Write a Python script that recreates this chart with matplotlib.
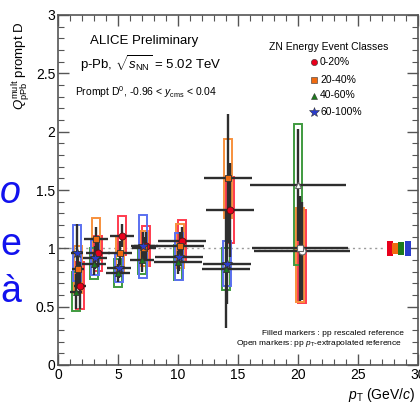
import matplotlib
matplotlib.use("Agg")
import matplotlib.pyplot as plt
from matplotlib.ticker import MultipleLocator
import numpy as np

plt.rcParams['font.family'] = ['Liberation Sans', 'DejaVu Sans']
plt.rcParams['mathtext.fontset'] = 'custom'
plt.rcParams['mathtext.rm'] = 'Liberation Sans'
plt.rcParams['mathtext.it'] = 'Liberation Sans:italic'
plt.rcParams['mathtext.bf'] = 'Liberation Sans:bold'

# ---- data ----
classes = ["0-20%", "20-40%", "40-60%", "60-100%"]
colors = ["#e8001c", "#f06a10", "#1c7a1c", "#2a3ccc"]
box_colors = ["#ff3b4e", "#f7903c", "#3f9a3f", "#5a70f0"]
markers = ["o", "s", "^", "*"]
x_offsets = [0.35, 0.15, 0.0, 0.1]

pt_center = [1.5, 3.0, 5.0, 7.0, 10.0, 14.0]
pt_halfw = [0.5, 1.0, 1.0, 1.0, 2.0, 2.0]

q_red = [0.68, 0.96, 1.11, 1.02, 1.06, 1.33]
q_orange = [0.82, 1.08, 0.96, 1.00, 1.02, 1.60]
q_green = [0.63, 0.87, 0.79, 0.90, 0.88, 0.82]
q_blue = [0.96, 0.92, 0.83, 1.02, 0.93, 0.87]

stat_red = [0.20, 0.12, 0.10, 0.12, 0.12, 0.40]
stat_orange = [0.16, 0.10, 0.10, 0.10, 0.12, 0.55]
stat_green = [0.15, 0.10, 0.08, 0.10, 0.10, 0.50]
stat_blue = [0.25, 0.10, 0.08, 0.12, 0.12, 0.35]

syst_red = [0.20, 0.15, 0.17, 0.17, 0.18, 0.28]
syst_orange = [0.20, 0.18, 0.15, 0.15, 0.19, 0.34]
syst_green = [0.17, 0.13, 0.12, 0.12, 0.15, 0.18]
syst_blue = [0.24, 0.15, 0.12, 0.27, 0.20, 0.19]

# open markers (pp pT-extrapolated reference), 16-24 GeV/c bin
pt_open = 20.0
pt_open_halfw = 4.0
open_classes = [0, 1, 2]
q_open = [0.98, 1.00, 1.54]
stat_open = [0.42, 0.45, 0.48]
syst_open_lo = [0.45, 0.46, 0.68]
syst_open_hi = [0.35, 0.35, 0.53]

# normalisation uncertainties (boxes at right)
norm_x = [27.65, 28.1, 28.6, 29.15]
norm_unc = [0.065, 0.045, 0.055, 0.065]

q_all = [q_red, q_orange, q_green, q_blue]
stat_all = [stat_red, stat_orange, stat_green, stat_blue]
syst_all = [syst_red, syst_orange, syst_green, syst_blue]

fig = plt.figure(figsize=(4.2, 4.05), dpi=100)
ax = fig.add_axes([58/420, 1-365/405, 360/420, 350/405])

ax.axhline(1.0, xmin=0, xmax=27.2/30, color="#9a9a9a", ls=(0, (1.5, 2.5)), lw=1.0, zorder=1)

box_w = 0.65
# systematic boxes
for k in range(4):
    xs = np.array(pt_center) + x_offsets[k]
    q = np.array(q_all[k]); s = np.array(syst_all[k])
    ax.bar(xs, 2*s, bottom=q - s, width=box_w, fill=False,
           edgecolor=box_colors[k], linewidth=1.4, zorder=2)
for j, k in enumerate(open_classes):
    x = pt_open + x_offsets[k]
    ax.bar([x], [syst_open_lo[j] + syst_open_hi[j]], bottom=q_open[j] - syst_open_lo[j],
           width=box_w, fill=False, edgecolor=box_colors[k], linewidth=1.4, zorder=2)

# stat errors and markers
for k in range(4):
    xs = np.array(pt_center) + x_offsets[k]
    ms = 7.5 if markers[k] == "*" else 5
    ax.errorbar(xs, q_all[k], xerr=pt_halfw, yerr=stat_all[k], fmt=markers[k],
                color=colors[k], mfc=colors[k], mec="#551010" if k == 0 else "#333333",
                mew=0.6, ms=ms, ecolor="#2e2e2e", elinewidth=1.7, capsize=0, zorder=4)
for j, k in enumerate(open_classes):
    x = pt_open + x_offsets[k]
    ms = 7.5 if markers[k] == "*" else 5
    ax.errorbar([x], [q_open[j]], xerr=[pt_open_halfw], yerr=[stat_open[j]], fmt=markers[k],
                mfc="white", mec="#666666", mew=0.8, ms=ms, ecolor="#2e2e2e",
                elinewidth=1.7, capsize=0, zorder=4)

# normalisation boxes
ax.bar(norm_x, [2*u for u in norm_unc], bottom=[1-u for u in norm_unc], width=0.5,
       color=colors, edgecolor="none", zorder=3)

ax.set_xlim(0, 30)
ax.set_ylim(0, 3)
ax.xaxis.set_major_locator(MultipleLocator(5))
ax.xaxis.set_minor_locator(MultipleLocator(1))
ax.yaxis.set_major_locator(MultipleLocator(0.5))
ax.yaxis.set_minor_locator(MultipleLocator(0.1))
ax.set_yticks([0, 0.5, 1, 1.5, 2, 2.5, 3])
ax.set_yticklabels(["0", "0.5", "1", "1.5", "2", "2.5", "3"])
ax.tick_params(which="both", direction="in", top=True, right=True, color="#555555")
ax.tick_params(which="major", length=8, width=1.0, labelsize=10, pad=2)
ax.tick_params(which="minor", length=4, width=0.8)
for sp in ax.spines.values():
    sp.set_color("#555555")
    sp.set_linewidth(1.2)

# legend
ax.text(0.585, 0.91, "ZN Energy Event Classes", transform=ax.transAxes, fontsize=7.5, va="center")
leg_y = [0.865, 0.815, 0.77, 0.723]
for k in range(4):
    ms = 7 if markers[k] == "*" else 4.5
    ax.plot([0.712], [leg_y[k]], markers[k], transform=ax.transAxes, color=colors[k], ms=ms,
            mec="#333333", mew=0.4, clip_on=False)
    ax.text(0.728, leg_y[k], classes[k], transform=ax.transAxes, fontsize=7.5, va="center")

ax.text(0.09, 0.925, "ALICE Preliminary", transform=ax.transAxes, fontsize=9.5, va="center")
ax.text(0.062, 0.862, r"p-Pb, $\sqrt{s_{\rm NN}}$ = 5.02 TeV", transform=ax.transAxes, fontsize=9.5, va="center")
ax.text(0.048, 0.78, r"Prompt D$^{0}$, -0.96 < $y_{\rm cms}$ < 0.04", transform=ax.transAxes, fontsize=7.5, va="center")

ax.text(0.96, 0.09, "Filled markers : pp rescaled reference", transform=ax.transAxes,
        fontsize=6, ha="right", va="center")
ax.text(0.955, 0.062, r"Open markers: pp $p_{\rm T}$-extrapolated reference", transform=ax.transAxes,
        fontsize=6, ha="right", va="center")

fig.text(0.988, 1-395/405, r"$p_{\rm T}$ (GeV/$c$)", fontsize=10, ha="right", va="center")
fig.text(21/420, 1-66/405, r"$Q^{\rm mult}_{\rm pPb}$ prompt D", fontsize=9.5, rotation=90,
         ha="center", va="center")

# slide remnants on the left
fig.text(0.0, 1-193/405, "o", color="#1212ee", fontsize=27, style="italic", va="center", ha="left")
fig.text(0.0, 1-245/405, "e", color="#1212ee", fontsize=27, va="center", ha="left")
fig.text(0.0, 1-292/405, "à", color="#1212ee", fontsize=27, va="center", ha="left")

fig.savefig("out.png", dpi=100)
